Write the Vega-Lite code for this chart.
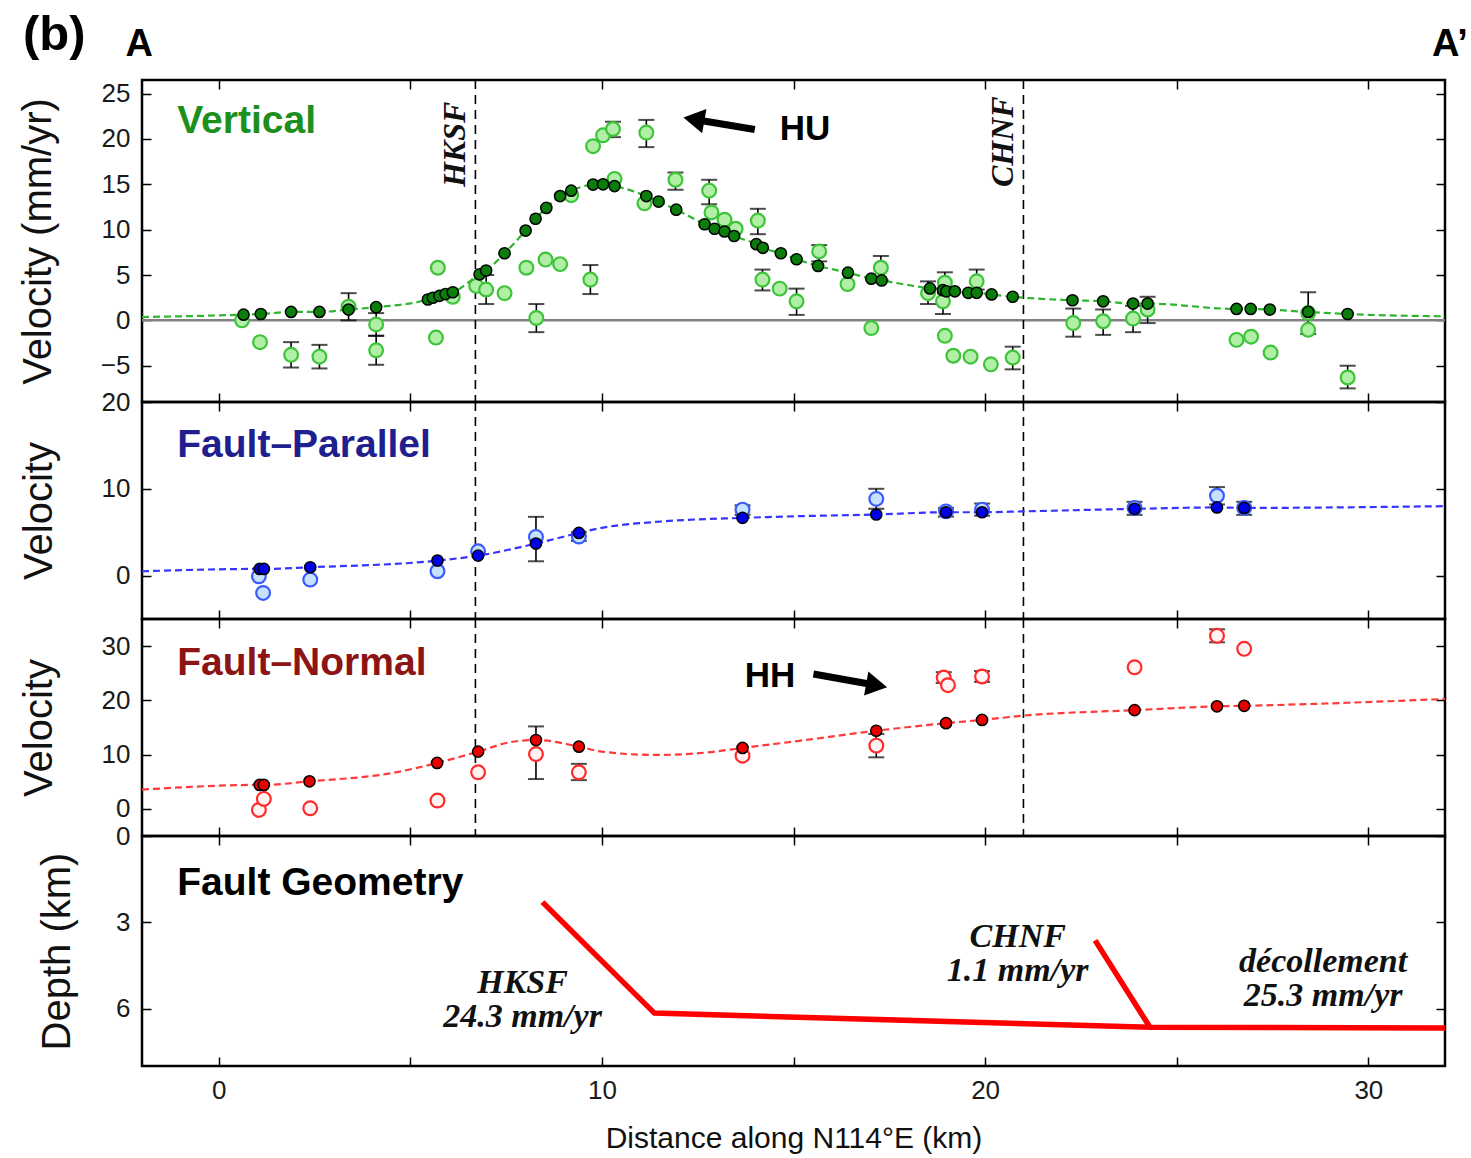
{
"$schema": "https://vega.github.io/schema/vega-lite/v6.json",
"padding": {"left": 17, "top": 9, "right": 5, "bottom": 2},
"background": "white",
"spacing": 0,
"bounds": "flush",
"config": {
  "view": {"stroke": "black", "strokeWidth": 2.5},
  "axis": {"domain": false, "grid": false, "tickColor": "black", "tickWidth": 1.5, "tickSize": -9, "labelFont": "Liberation Sans", "labelFontSize": 26, "labelColor": "#1a1a1a", "labelPadding": 21, "titleFont": "Liberation Sans", "titleFontSize": 40, "titleFontWeight": "normal", "titleColor": "#111111", "labelOverlap": false},
  "concat": {"spacing": 0}
},
"datasets": {
  "faultx": [{"x": 6.7}, {"x": 21.0}],
  "vobs": [
    {"x": 0.61, "y": 0.0}, {"x": 1.08, "y": -2.4},
    {"x": 1.89, "y": -3.8, "lo": -5.2, "hi": -2.4}, {"x": 2.63, "y": -4.0, "lo": -5.3, "hi": -2.7},
    {"x": 3.39, "y": 1.5, "lo": 0.0, "hi": 3.0}, {"x": 4.11, "y": -0.45, "lo": -1.7, "hi": 0.8},
    {"x": 4.11, "y": -3.3, "lo": -4.9, "hi": -1.7}, {"x": 5.72, "y": 5.8}, {"x": 5.67, "y": -1.9},
    {"x": 6.11, "y": 2.6}, {"x": 6.72, "y": 3.8}, {"x": 6.98, "y": 3.4, "lo": 1.8, "hi": 5.0},
    {"x": 7.46, "y": 3.0}, {"x": 8.03, "y": 5.8}, {"x": 8.53, "y": 6.7}, {"x": 8.91, "y": 6.2},
    {"x": 8.29, "y": 0.26, "lo": -1.3, "hi": 1.8}, {"x": 9.77, "y": 19.2},
    {"x": 9.7, "y": 4.5, "lo": 2.9, "hi": 6.1}, {"x": 9.2, "y": 13.8}, {"x": 10.03, "y": 20.4},
    {"x": 10.29, "y": 21.1, "lo": 20.2, "hi": 21.9}, {"x": 11.16, "y": 20.7, "lo": 19.1, "hi": 22.1},
    {"x": 10.33, "y": 15.6}, {"x": 11.11, "y": 12.9}, {"x": 11.92, "y": 15.5, "lo": 14.4, "hi": 16.3},
    {"x": 12.8, "y": 14.3, "lo": 12.8, "hi": 15.5}, {"x": 12.86, "y": 11.9}, {"x": 13.2, "y": 11.1},
    {"x": 13.49, "y": 10.1}, {"x": 14.07, "y": 11.0, "lo": 9.5, "hi": 12.3},
    {"x": 14.19, "y": 4.5, "lo": 3.3, "hi": 5.6}, {"x": 14.64, "y": 3.5},
    {"x": 15.08, "y": 2.1, "lo": 0.6, "hi": 3.5}, {"x": 15.67, "y": 7.6, "lo": 6.5, "hi": 8.3},
    {"x": 16.41, "y": 4.0}, {"x": 17.28, "y": 5.8, "lo": 4.4, "hi": 7.1}, {"x": 17.03, "y": -0.85},
    {"x": 18.51, "y": 3.0, "lo": 1.8, "hi": 4.3}, {"x": 18.95, "y": 4.15, "lo": 3.0, "hi": 5.3},
    {"x": 18.9, "y": 2.1, "lo": 0.7, "hi": 3.5}, {"x": 19.78, "y": 4.3, "lo": 3.4, "hi": 5.6},
    {"x": 18.95, "y": -1.7}, {"x": 19.17, "y": -3.9}, {"x": 19.62, "y": -4.0}, {"x": 20.15, "y": -4.85},
    {"x": 20.72, "y": -4.1, "lo": -5.4, "hi": -2.9}, {"x": 22.3, "y": -0.3, "lo": -1.8, "hi": 1.3},
    {"x": 23.08, "y": -0.1, "lo": -1.6, "hi": 1.2}, {"x": 23.86, "y": 0.2, "lo": -1.3, "hi": 1.6},
    {"x": 24.24, "y": 1.2, "lo": -0.3, "hi": 2.6}, {"x": 26.56, "y": -2.15}, {"x": 26.94, "y": -1.8},
    {"x": 27.45, "y": -3.55}, {"x": 28.43, "y": 0.8, "lo": -1.5, "hi": 3.1}, {"x": 28.43, "y": -1.04},
    {"x": 29.46, "y": -6.3, "lo": -7.5, "hi": -5.0}
  ],
  "vmod": [
    {"x": -2, "y": 0.37, "pt": false},
    {"x": 0.65, "y": 0.63, "pt": true}, {"x": 1.1, "y": 0.7, "pt": true}, {"x": 1.89, "y": 0.93, "pt": true},
    {"x": 2.63, "y": 0.93, "pt": true}, {"x": 3.39, "y": 1.19, "pt": true}, {"x": 4.11, "y": 1.45, "pt": true},
    {"x": 5.46, "y": 2.3, "pt": true}, {"x": 5.59, "y": 2.49, "pt": true}, {"x": 5.76, "y": 2.7, "pt": true},
    {"x": 5.92, "y": 2.9, "pt": true}, {"x": 6.11, "y": 3.1, "pt": true}, {"x": 6.81, "y": 5.08, "pt": true},
    {"x": 6.98, "y": 5.5, "pt": true}, {"x": 7.46, "y": 7.4, "pt": true}, {"x": 8.01, "y": 9.9, "pt": true},
    {"x": 8.27, "y": 11.2, "pt": true}, {"x": 8.55, "y": 12.4, "pt": true}, {"x": 8.91, "y": 13.7, "pt": true},
    {"x": 9.2, "y": 14.3, "pt": true}, {"x": 9.77, "y": 14.97, "pt": true}, {"x": 10.03, "y": 15.0, "pt": true},
    {"x": 10.33, "y": 14.8, "pt": true}, {"x": 11.16, "y": 13.7, "pt": true}, {"x": 11.48, "y": 13.1, "pt": true},
    {"x": 11.94, "y": 12.2, "pt": true}, {"x": 12.68, "y": 10.6, "pt": true}, {"x": 12.94, "y": 10.1, "pt": true},
    {"x": 13.2, "y": 9.8, "pt": true}, {"x": 13.45, "y": 9.3, "pt": true}, {"x": 14.03, "y": 8.4, "pt": true},
    {"x": 14.2, "y": 8.0, "pt": true}, {"x": 14.67, "y": 7.4, "pt": true}, {"x": 15.08, "y": 6.74, "pt": true},
    {"x": 15.64, "y": 6.0, "pt": true}, {"x": 16.42, "y": 5.26, "pt": true}, {"x": 17.03, "y": 4.6, "pt": true},
    {"x": 17.3, "y": 4.4, "pt": true}, {"x": 18.56, "y": 3.52, "pt": true}, {"x": 18.9, "y": 3.33, "pt": true},
    {"x": 18.99, "y": 3.2, "pt": true}, {"x": 19.21, "y": 3.2, "pt": true}, {"x": 19.56, "y": 3.04, "pt": true},
    {"x": 19.78, "y": 3.04, "pt": true}, {"x": 20.17, "y": 2.86, "pt": true}, {"x": 20.72, "y": 2.6, "pt": true},
    {"x": 22.28, "y": 2.22, "pt": true}, {"x": 23.08, "y": 2.1, "pt": true}, {"x": 23.86, "y": 1.85, "pt": true},
    {"x": 24.24, "y": 1.85, "pt": true}, {"x": 26.56, "y": 1.26, "pt": true}, {"x": 26.93, "y": 1.26, "pt": true},
    {"x": 27.43, "y": 1.19, "pt": true}, {"x": 28.43, "y": 0.93, "pt": true}, {"x": 29.46, "y": 0.7, "pt": true},
    {"x": 32, "y": 0.45, "pt": false}
  ],
  "pobs": [
    {"x": 1.05, "y": -0.08}, {"x": 1.16, "y": -2.0}, {"x": 2.39, "y": -0.46}, {"x": 5.71, "y": 0.5},
    {"x": 6.77, "y": 2.8}, {"x": 8.28, "y": 4.46, "lo": 1.65, "hi": 6.77}, {"x": 9.4, "y": 4.5, "lo": 4.0, "hi": 5.0},
    {"x": 13.67, "y": 7.6, "lo": 7.0, "hi": 8.1}, {"x": 17.16, "y": 8.84, "lo": 7.7, "hi": 10.0},
    {"x": 18.98, "y": 7.4, "lo": 6.8, "hi": 7.8}, {"x": 19.92, "y": 7.6, "lo": 6.9, "hi": 8.3},
    {"x": 23.9, "y": 7.8, "lo": 7.0, "hi": 8.5}, {"x": 26.05, "y": 9.2, "lo": 8.2, "hi": 10.2},
    {"x": 26.76, "y": 7.8, "lo": 7.0, "hi": 8.5}
  ],
  "pmod": [
    {"x": -2, "y": 0.5, "pt": false}, {"x": 1.07, "y": 0.77, "pt": true}, {"x": 1.18, "y": 0.77, "pt": true},
    {"x": 2.39, "y": 0.96, "pt": true}, {"x": 5.71, "y": 1.73, "pt": true}, {"x": 6.77, "y": 2.3, "pt": true},
    {"x": 8.28, "y": 3.69, "pt": true}, {"x": 9.4, "y": 4.92, "pt": true}, {"x": 10.0, "y": 5.5, "pt": false},
    {"x": 11.64, "y": 6.26, "pt": false}, {"x": 13.67, "y": 6.65, "pt": true}, {"x": 15.1, "y": 6.84, "pt": false},
    {"x": 17.16, "y": 7.04, "pt": true}, {"x": 18.98, "y": 7.3, "pt": true}, {"x": 19.92, "y": 7.3, "pt": true},
    {"x": 21.0, "y": 7.4, "pt": false}, {"x": 23.9, "y": 7.69, "pt": true}, {"x": 26.05, "y": 7.85, "pt": true},
    {"x": 26.76, "y": 7.8, "pt": true}, {"x": 32, "y": 8.0, "pt": false}
  ],
  "nobs": [
    {"x": 1.05, "y": -0.2}, {"x": 1.18, "y": 1.84}, {"x": 2.39, "y": 0.1}, {"x": 5.71, "y": 1.53},
    {"x": 6.77, "y": 6.74}, {"x": 8.28, "y": 10.1, "lo": 5.5, "hi": 15.2}, {"x": 9.4, "y": 6.74, "lo": 5.3, "hi": 8.3},
    {"x": 13.67, "y": 9.8}, {"x": 17.16, "y": 11.66, "lo": 9.5, "hi": 13.8}, {"x": 18.92, "y": 24.2, "lo": 23.2, "hi": 25.2},
    {"x": 19.03, "y": 22.8}, {"x": 19.92, "y": 24.4, "lo": 23.4, "hi": 25.4}, {"x": 23.9, "y": 26.1},
    {"x": 26.05, "y": 31.9, "lo": 30.7, "hi": 33.1}, {"x": 26.76, "y": 29.5}
  ],
  "nmod": [
    {"x": -2, "y": 3.55, "pt": false}, {"x": 1.07, "y": 4.42, "pt": true}, {"x": 1.18, "y": 4.42, "pt": true},
    {"x": 2.37, "y": 5.08, "pt": true}, {"x": 4.52, "y": 6.6, "pt": false}, {"x": 5.7, "y": 8.47, "pt": true},
    {"x": 6.77, "y": 10.55, "pt": true}, {"x": 7.59, "y": 12.27, "pt": false}, {"x": 8.28, "y": 12.7, "pt": true},
    {"x": 9.4, "y": 11.47, "pt": true}, {"x": 10.0, "y": 10.55, "pt": false}, {"x": 11.42, "y": 9.94, "pt": false},
    {"x": 12.74, "y": 10.4, "pt": false}, {"x": 13.67, "y": 11.23, "pt": true}, {"x": 15.1, "y": 12.5, "pt": false},
    {"x": 17.16, "y": 14.4, "pt": true}, {"x": 18.98, "y": 15.8, "pt": true}, {"x": 19.92, "y": 16.4, "pt": true},
    {"x": 21.02, "y": 17.2, "pt": false}, {"x": 23.9, "y": 18.2, "pt": true}, {"x": 26.05, "y": 18.9, "pt": true},
    {"x": 26.76, "y": 19.0, "pt": true}, {"x": 32, "y": 20.26, "pt": false}
  ],
  "faults": [
    {"seg": "main", "x": 8.45, "y": 2.3}, {"seg": "main", "x": 11.37, "y": 6.16},
    {"seg": "main", "x": 24.3, "y": 6.65}, {"seg": "main", "x": 32, "y": 6.68},
    {"seg": "chnf", "x": 22.87, "y": 3.63}, {"seg": "chnf", "x": 24.3, "y": 6.65}
  ]
},
"vconcat": [
  {
    "width": 1303, "height": 322,
    "resolve": {"axis": {"x": "independent", "y": "independent"}},
    "layer": [
      {"data": {"values": [{"y": 0}]}, "mark": {"type": "rule", "color": "#808080", "strokeWidth": 2.5},
       "encoding": {"y": {"field": "y", "type": "quantitative", "scale": {"domain": [-9, 26.5], "nice": false, "zero": false}, "axis": null}}},
      {"data": {"name": "faultx"}, "mark": {"type": "rule", "color": "black", "strokeWidth": 1.6, "strokeDash": [9, 6]},
       "encoding": {"x": {"field": "x", "type": "quantitative", "scale": {"domain": [-2, 32], "nice": false, "zero": false}, "axis": null}}},
      {"data": {"name": "vobs"}, "transform": [{"filter": "isValid(datum.lo)"}],
       "mark": {"type": "errorbar", "color": "black", "ticks": {"size": 16, "thickness": 2, "color": "black"}, "rule": {"strokeWidth": 1.6, "color": "black"}},
       "encoding": {"x": {"field": "x", "type": "quantitative", "scale": {"domain": [-2, 32], "nice": false, "zero": false}, "axis": null},
                    "y": {"field": "lo", "type": "quantitative", "scale": {"domain": [-9, 26.5], "nice": false, "zero": false}, "axis": null}, "y2": {"field": "hi"}}},
      {"data": {"name": "vobs"}, "mark": {"type": "circle", "fill": "#b2efa6", "stroke": "#3ec43a", "strokeWidth": 2.2, "size": 190, "opacity": 1},
       "encoding": {"x": {"field": "x", "type": "quantitative", "scale": {"domain": [-2, 32], "nice": false, "zero": false}, "axis": null},
                    "y": {"field": "y", "type": "quantitative", "scale": {"domain": [-9, 26.5], "nice": false, "zero": false}, "axis": null}}},
      {"data": {"name": "vmod"}, "mark": {"type": "line", "color": "#2fb52f", "strokeWidth": 2.2, "strokeDash": [7, 4], "interpolate": "monotone"},
       "encoding": {"x": {"field": "x", "type": "quantitative", "scale": {"domain": [-2, 32], "nice": false, "zero": false}, "axis": {"orient": "top", "values": [0, 5, 10, 15, 20, 25, 30], "labels": false, "title": null}},
                    "y": {"field": "y", "type": "quantitative", "scale": {"domain": [-9, 26.5], "nice": false, "zero": false}, "axis": {"orient": "right", "values": [-5, 0, 5, 10, 15, 20, 25], "labels": false, "title": null}}}},
      {"data": {"name": "vmod"}, "transform": [{"filter": "datum.pt"}], "mark": {"type": "circle", "fill": "#0b7d0b", "stroke": "black", "strokeWidth": 1.5, "size": 125, "opacity": 1},
       "encoding": {"x": {"field": "x", "type": "quantitative", "scale": {"domain": [-2, 32], "nice": false, "zero": false}, "axis": {"orient": "bottom", "values": [0, 5, 10, 15, 20, 25, 30], "labels": false, "title": null}},
                    "y": {"field": "y", "type": "quantitative", "scale": {"domain": [-9, 26.5], "nice": false, "zero": false}, "axis": {"orient": "left", "values": [-5, 0, 5, 10, 15, 20, 25], "title": "Velocity (mm/yr)", "titlePadding": 42}}}},
      {"data": {"values": [{"x": -1.08, "y": 22.0, "t": "Vertical"}]}, "mark": {"type": "text", "align": "left", "baseline": "middle", "font": "Liberation Sans", "fontWeight": "bold", "fontSize": 39, "color": "#1d8f1d"},
       "encoding": {"x": {"field": "x", "type": "quantitative", "scale": {"domain": [-2, 32], "nice": false, "zero": false}, "axis": null},
                    "y": {"field": "y", "type": "quantitative", "scale": {"domain": [-9, 26.5], "nice": false, "zero": false}, "axis": null}, "text": {"field": "t"}}},
      {"data": {"values": [{"x": 6.16, "y": 19.4, "t": "HKSF"}, {"x": 20.46, "y": 19.7, "t": "CHNF"}]}, "mark": {"type": "text", "align": "center", "baseline": "middle", "angle": 270, "font": "Liberation Serif", "fontStyle": "italic", "fontWeight": "bold", "fontSize": 32, "color": "#111111"},
       "encoding": {"x": {"field": "x", "type": "quantitative", "scale": {"domain": [-2, 32], "nice": false, "zero": false}, "axis": null},
                    "y": {"field": "y", "type": "quantitative", "scale": {"domain": [-9, 26.5], "nice": false, "zero": false}, "axis": null}, "text": {"field": "t"}}},
      {"data": {"values": [{"x": 14.64, "y": 21.08, "t": "HU"}]}, "mark": {"type": "text", "align": "left", "baseline": "middle", "font": "Liberation Sans", "fontWeight": "bold", "fontSize": 35, "color": "black"},
       "encoding": {"x": {"field": "x", "type": "quantitative", "scale": {"domain": [-2, 32], "nice": false, "zero": false}, "axis": null},
                    "y": {"field": "y", "type": "quantitative", "scale": {"domain": [-9, 26.5], "nice": false, "zero": false}, "axis": null}, "text": {"field": "t"}}},
      {"data": {"values": [{"x": 13.99, "y": 21.05, "x2": 12.62, "y2": 22.0}]}, "mark": {"type": "rule", "color": "black", "strokeWidth": 7},
       "encoding": {"x": {"field": "x", "type": "quantitative", "scale": {"domain": [-2, 32], "nice": false, "zero": false}, "axis": null},
                    "y": {"field": "y", "type": "quantitative", "scale": {"domain": [-9, 26.5], "nice": false, "zero": false}, "axis": null}, "x2": {"field": "x2"}, "y2": {"field": "y2"}}},
      {"data": {"values": [{"x": 12.4, "y": 22.17}]}, "mark": {"type": "point", "shape": "triangle-left", "angle": 10, "filled": true, "color": "black", "size": 600, "opacity": 1},
       "encoding": {"x": {"field": "x", "type": "quantitative", "scale": {"domain": [-2, 32], "nice": false, "zero": false}, "axis": null},
                    "y": {"field": "y", "type": "quantitative", "scale": {"domain": [-9, 26.5], "nice": false, "zero": false}, "axis": null}}},
      {"data": {"values": [{"x": -4.29, "y": 31.5, "t": "(b)"}]}, "mark": {"type": "text", "align": "center", "baseline": "middle", "font": "Liberation Sans", "fontWeight": "bold", "fontSize": 49, "color": "black"},
       "encoding": {"x": {"field": "x", "type": "quantitative", "scale": {"domain": [-2, 32], "nice": false, "zero": false}, "axis": null},
                    "y": {"field": "y", "type": "quantitative", "scale": {"domain": [-9, 26.5], "nice": false, "zero": false}, "axis": null}, "text": {"field": "t"}}},
      {"data": {"values": [{"x": -2.07, "y": 30.4, "t": "A"}, {"x": 32.13, "y": 30.4, "t": "A’"}]}, "mark": {"type": "text", "align": "center", "baseline": "middle", "font": "Liberation Sans", "fontWeight": "bold", "fontSize": 38, "color": "black"},
       "encoding": {"x": {"field": "x", "type": "quantitative", "scale": {"domain": [-2, 32], "nice": false, "zero": false}, "axis": null},
                    "y": {"field": "y", "type": "quantitative", "scale": {"domain": [-9, 26.5], "nice": false, "zero": false}, "axis": null}, "text": {"field": "t"}}}
    ]
  },
  {
    "width": 1303, "height": 217,
    "resolve": {"axis": {"x": "independent", "y": "independent"}},
    "layer": [
      {"data": {"name": "faultx"}, "mark": {"type": "rule", "color": "black", "strokeWidth": 1.6, "strokeDash": [9, 6]},
       "encoding": {"x": {"field": "x", "type": "quantitative", "scale": {"domain": [-2, 32], "nice": false, "zero": false}, "axis": null}}},
      {"data": {"name": "pobs"}, "transform": [{"filter": "isValid(datum.lo)"}],
       "mark": {"type": "errorbar", "color": "black", "ticks": {"size": 16, "thickness": 2, "color": "black"}, "rule": {"strokeWidth": 1.6, "color": "black"}},
       "encoding": {"x": {"field": "x", "type": "quantitative", "scale": {"domain": [-2, 32], "nice": false, "zero": false}, "axis": null},
                    "y": {"field": "lo", "type": "quantitative", "scale": {"domain": [-5, 20], "nice": false, "zero": false}, "axis": null}, "y2": {"field": "hi"}}},
      {"data": {"name": "pobs"}, "mark": {"type": "circle", "fill": "#c6e2ff", "stroke": "#3a5cff", "strokeWidth": 2.2, "size": 190, "opacity": 1},
       "encoding": {"x": {"field": "x", "type": "quantitative", "scale": {"domain": [-2, 32], "nice": false, "zero": false}, "axis": null},
                    "y": {"field": "y", "type": "quantitative", "scale": {"domain": [-5, 20], "nice": false, "zero": false}, "axis": null}}},
      {"data": {"name": "pmod"}, "mark": {"type": "line", "color": "#3535ff", "strokeWidth": 2.2, "strokeDash": [7, 4], "interpolate": "monotone"},
       "encoding": {"x": {"field": "x", "type": "quantitative", "scale": {"domain": [-2, 32], "nice": false, "zero": false}, "axis": {"orient": "top", "values": [0, 5, 10, 15, 20, 25, 30], "labels": false, "title": null}},
                    "y": {"field": "y", "type": "quantitative", "scale": {"domain": [-5, 20], "nice": false, "zero": false}, "axis": {"orient": "right", "values": [0, 10, 20], "labels": false, "title": null}}}},
      {"data": {"name": "pmod"}, "transform": [{"filter": "datum.pt"}], "mark": {"type": "circle", "fill": "#0000e8", "stroke": "black", "strokeWidth": 1.5, "size": 125, "opacity": 1},
       "encoding": {"x": {"field": "x", "type": "quantitative", "scale": {"domain": [-2, 32], "nice": false, "zero": false}, "axis": {"orient": "bottom", "values": [0, 5, 10, 15, 20, 25, 30], "labels": false, "title": null}},
                    "y": {"field": "y", "type": "quantitative", "scale": {"domain": [-5, 20], "nice": false, "zero": false}, "axis": {"orient": "left", "values": [0, 10, 20], "title": "Velocity", "titlePadding": 42}}}},
      {"data": {"values": [{"x": -1.08, "y": 15.0, "t": "Fault–Parallel"}]}, "mark": {"type": "text", "align": "left", "baseline": "middle", "font": "Liberation Sans", "fontWeight": "bold", "fontSize": 39, "color": "#1f1f8f"},
       "encoding": {"x": {"field": "x", "type": "quantitative", "scale": {"domain": [-2, 32], "nice": false, "zero": false}, "axis": null},
                    "y": {"field": "y", "type": "quantitative", "scale": {"domain": [-5, 20], "nice": false, "zero": false}, "axis": null}, "text": {"field": "t"}}}
    ]
  },
  {
    "width": 1303, "height": 217,
    "resolve": {"axis": {"x": "independent", "y": "independent"}},
    "layer": [
      {"data": {"name": "faultx"}, "mark": {"type": "rule", "color": "black", "strokeWidth": 1.6, "strokeDash": [9, 6]},
       "encoding": {"x": {"field": "x", "type": "quantitative", "scale": {"domain": [-2, 32], "nice": false, "zero": false}, "axis": null}}},
      {"data": {"name": "nobs"}, "transform": [{"filter": "isValid(datum.lo)"}],
       "mark": {"type": "errorbar", "color": "black", "ticks": {"size": 16, "thickness": 2, "color": "black"}, "rule": {"strokeWidth": 1.6, "color": "black"}},
       "encoding": {"x": {"field": "x", "type": "quantitative", "scale": {"domain": [-2, 32], "nice": false, "zero": false}, "axis": null},
                    "y": {"field": "lo", "type": "quantitative", "scale": {"domain": [-5, 35], "nice": false, "zero": false}, "axis": null}, "y2": {"field": "hi"}}},
      {"data": {"name": "nobs"}, "mark": {"type": "circle", "fill": "#fff3f3", "stroke": "#ff2a2a", "strokeWidth": 2.2, "size": 190, "opacity": 1},
       "encoding": {"x": {"field": "x", "type": "quantitative", "scale": {"domain": [-2, 32], "nice": false, "zero": false}, "axis": null},
                    "y": {"field": "y", "type": "quantitative", "scale": {"domain": [-5, 35], "nice": false, "zero": false}, "axis": null}}},
      {"data": {"name": "nmod"}, "mark": {"type": "line", "color": "#ff3a3a", "strokeWidth": 2.2, "strokeDash": [7, 4], "interpolate": "monotone"},
       "encoding": {"x": {"field": "x", "type": "quantitative", "scale": {"domain": [-2, 32], "nice": false, "zero": false}, "axis": {"orient": "top", "values": [0, 5, 10, 15, 20, 25, 30], "labels": false, "title": null}},
                    "y": {"field": "y", "type": "quantitative", "scale": {"domain": [-5, 35], "nice": false, "zero": false}, "axis": {"orient": "right", "values": [0, 10, 20, 30], "labels": false, "title": null}}}},
      {"data": {"name": "nmod"}, "transform": [{"filter": "datum.pt"}], "mark": {"type": "circle", "fill": "#e80000", "stroke": "black", "strokeWidth": 1.5, "size": 125, "opacity": 1},
       "encoding": {"x": {"field": "x", "type": "quantitative", "scale": {"domain": [-2, 32], "nice": false, "zero": false}, "axis": {"orient": "bottom", "values": [0, 5, 10, 15, 20, 25, 30], "labels": false, "title": null}},
                    "y": {"field": "y", "type": "quantitative", "scale": {"domain": [-5, 35], "nice": false, "zero": false}, "axis": {"orient": "left", "values": [0, 10, 20, 30], "title": "Velocity", "titlePadding": 42}}}},
      {"data": {"values": [{"x": -1.08, "y": 26.8, "t": "Fault–Normal"}]}, "mark": {"type": "text", "align": "left", "baseline": "middle", "font": "Liberation Sans", "fontWeight": "bold", "fontSize": 39, "color": "#8c1414"},
       "encoding": {"x": {"field": "x", "type": "quantitative", "scale": {"domain": [-2, 32], "nice": false, "zero": false}, "axis": null},
                    "y": {"field": "y", "type": "quantitative", "scale": {"domain": [-5, 35], "nice": false, "zero": false}, "axis": null}, "text": {"field": "t"}}},
      {"data": {"values": [{"x": 13.73, "y": 24.5, "t": "HH"}]}, "mark": {"type": "text", "align": "left", "baseline": "middle", "font": "Liberation Sans", "fontWeight": "bold", "fontSize": 35, "color": "black"},
       "encoding": {"x": {"field": "x", "type": "quantitative", "scale": {"domain": [-2, 32], "nice": false, "zero": false}, "axis": null},
                    "y": {"field": "y", "type": "quantitative", "scale": {"domain": [-5, 35], "nice": false, "zero": false}, "axis": null}, "text": {"field": "t"}}},
      {"data": {"values": [{"x": 15.52, "y": 24.86, "x2": 16.94, "y2": 23.06}]}, "mark": {"type": "rule", "color": "black", "strokeWidth": 7},
       "encoding": {"x": {"field": "x", "type": "quantitative", "scale": {"domain": [-2, 32], "nice": false, "zero": false}, "axis": null},
                    "y": {"field": "y", "type": "quantitative", "scale": {"domain": [-5, 35], "nice": false, "zero": false}, "axis": null}, "x2": {"field": "x2"}, "y2": {"field": "y2"}}},
      {"data": {"values": [{"x": 17.17, "y": 22.76}]}, "mark": {"type": "point", "shape": "triangle-right", "angle": 10, "filled": true, "color": "black", "size": 600, "opacity": 1},
       "encoding": {"x": {"field": "x", "type": "quantitative", "scale": {"domain": [-2, 32], "nice": false, "zero": false}, "axis": null},
                    "y": {"field": "y", "type": "quantitative", "scale": {"domain": [-5, 35], "nice": false, "zero": false}, "axis": null}}}
    ]
  },
  {
    "width": 1303, "height": 230,
    "resolve": {"axis": {"x": "independent", "y": "independent"}},
    "layer": [
      {"data": {"name": "faults"}, "mark": {"type": "line", "color": "#ff0000", "strokeWidth": 5.5, "strokeCap": "butt", "strokeJoin": "miter"},
       "encoding": {"x": {"field": "x", "type": "quantitative", "scale": {"domain": [-2, 32], "nice": false, "zero": false}, "axis": {"orient": "bottom", "values": [0, 5, 10, 15, 20, 25, 30], "labelExpr": "datum.value % 10 === 0 ? datum.label : ''", "labelPadding": 20, "title": "Distance along N114°E (km)", "titleFontSize": 30, "titlePadding": 20}},
                    "y": {"field": "y", "type": "quantitative", "scale": {"domain": [0, 8], "reverse": true, "nice": false, "zero": false}, "axis": {"orient": "left", "values": [0, 3, 6], "title": "Depth (km)", "titlePadding": 38}},
                    "detail": {"field": "seg"}}},
      {"data": {"values": [{"x": -1.08, "y": 1.63, "t": "Fault Geometry"}]}, "mark": {"type": "text", "align": "left", "baseline": "middle", "font": "Liberation Sans", "fontWeight": "bold", "fontSize": 39, "color": "black"},
       "encoding": {"x": {"field": "x", "type": "quantitative", "scale": {"domain": [-2, 32], "nice": false, "zero": false}, "axis": {"orient": "top", "values": [0, 5, 10, 15, 20, 25, 30], "labels": false, "title": null}},
                    "y": {"field": "y", "type": "quantitative", "scale": {"domain": [0, 8], "reverse": true, "nice": false, "zero": false}, "axis": {"orient": "right", "values": [0, 3, 6], "labels": false, "title": null}}, "text": {"field": "t"}}},
      {"data": {"values": [{"x": 7.93, "y": 5.11, "t": ["HKSF", "24.3 mm/yr"]}, {"x": 20.85, "y": 3.51, "t": ["CHNF", "1.1 mm/yr"]}, {"x": 28.82, "y": 4.38, "t": ["décollement", "25.3 mm/yr"]}]},
       "mark": {"type": "text", "align": "center", "baseline": "middle", "lineHeight": 34, "font": "Liberation Serif", "fontStyle": "italic", "fontWeight": "bold", "fontSize": 34, "color": "#111111"},
       "encoding": {"x": {"field": "x", "type": "quantitative", "scale": {"domain": [-2, 32], "nice": false, "zero": false}, "axis": null},
                    "y": {"field": "y", "type": "quantitative", "scale": {"domain": [0, 8], "reverse": true, "nice": false, "zero": false}, "axis": null}, "text": {"field": "t"}}}
    ]
  }
]
}
